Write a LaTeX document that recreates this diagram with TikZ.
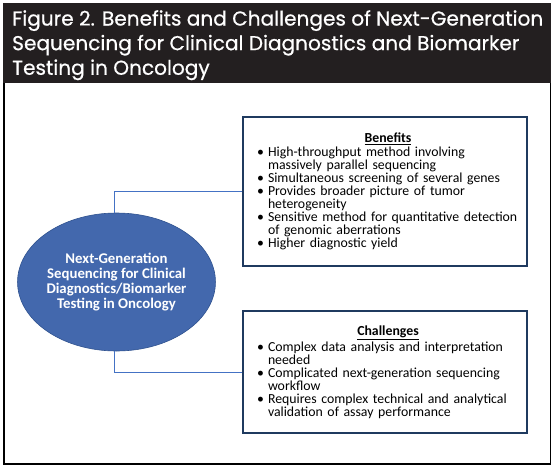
\documentclass[tikz,border=0pt]{standalone}
\usepackage{fontspec}
\setmainfont{Carlito}
\newfontfamily\titlefont[FakeBold=0.6]{Poppins}
\usepackage{enumitem}
\usetikzlibrary{shapes.geometric, positioning}
\definecolor{barBlack}{HTML}{231F20}
\definecolor{hubBlue}{HTML}{4368AD}
\definecolor{hubEdge}{HTML}{2F528F}
\definecolor{linkBlue}{HTML}{4472C4}
\definecolor{boxNavy}{HTML}{1F3A5F}
\tikzset{
    % Shapes
    titlebar/.style={fill=barBlack, draw=none},
    frame/.style={draw=black, line width=1.2pt},
    hub/.style={ellipse, draw=hubEdge, fill=hubBlue, line width=0.6pt,
                minimum width=173pt, minimum height=138pt, inner sep=0pt,
                align=center, text=white, font=\fontsize{14.8}{14.8}\selectfont\bfseries},
    infobox/.style={rectangle, draw=boxNavy, line width=1.3pt,
                    minimum width=284pt, text width=272pt, inner sep=0pt,
                    font=\fontsize{13.8}{13}\selectfont},
    % Flow & Labels
    link/.style={draw=linkBlue, line width=1pt},
    heading/.style={font=\titlefont\fontsize{20.1}{24.6}\selectfont, text=white, align=left,
                    inner sep=0pt}
}
\setlist[itemize]{nosep, leftmargin=19pt, labelsep=4pt, label=\textbullet}

\begin{document}
\begin{tikzpicture}[x=1pt, y=-1pt]
\useasboundingbox (0,0) rectangle (557,469);

\fill[titlebar] (3,3) rectangle (551,83);
\draw[frame] (4,83) -- (4,464) -- (550.5,464) -- (550.5,83);

\node[heading, anchor=north west] (title) at (12,10)
    {Figure 2. Benefits and Challenges of Next-Generation\\
     Sequencing for Clinical Diagnostics and Biomarker\\
     Testing in Oncology};

\node[hub] (ngs) at (116.5,282)
    {Next-Generation\\Sequencing for Clinical\\Diagnostics/Biomarker\\Testing in Oncology};

\node[infobox, minimum height=149pt] (ben) at (385,191.5) {%
    \centering\hspace*{6pt}\textbf{\underline{Benefits}}\par\vspace{1pt}
    \begin{itemize}
    \item High-throughput method involving\\massively parallel sequencing
    \item Simultaneous screening of several genes
    \item Provides broader picture of tumor\\heterogeneity
    \item Sensitive method for quantitative detection\\of genomic aberrations
    \item Higher diagnostic yield
    \end{itemize}};

\node[infobox, minimum height=122pt] (chal) at (385,372) {%
    \centering\hspace*{6pt}\textbf{\underline{Challenges}}\par\vspace{1pt}
    \begin{itemize}
    \item Complex data analysis and interpretation\\needed
    \item Complicated next-generation sequencing\\workflow
    \item Requires complex technical and analytical\\validation of assay performance
    \end{itemize}};

\draw[link] ([xshift=-2.5pt]ngs.north) |- (ben.west);
\draw[link] ([xshift=-2.5pt]ngs.south) |- (chal.west);

\end{tikzpicture}
\end{document}
